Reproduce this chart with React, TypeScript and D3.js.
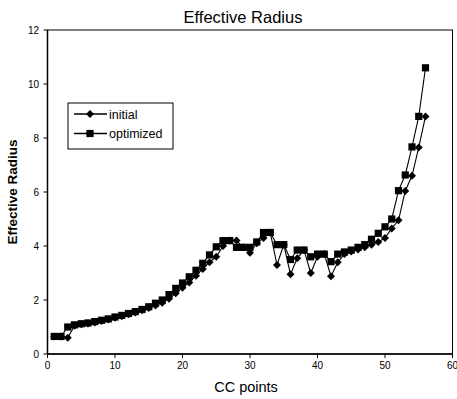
import React from "react";
import * as d3 from "d3";

const ccPoints = d3.range(1, 57);
const initialValues = [
  0.65, 0.65, 0.6, 1.05, 1.1, 1.13, 1.17, 1.22, 1.28, 1.34,
  1.4, 1.47, 1.54, 1.62, 1.7, 1.8, 1.9, 2.05, 2.25, 2.45,
  2.65, 2.9, 3.15, 3.4, 3.6, 4.0, 4.2, 4.2, 3.95, 3.75,
  4.1, 4.3, 4.5, 3.3, 4.05, 2.95, 3.55, 3.85, 3.0, 3.6,
  3.7, 2.88, 3.4, 3.7, 3.8, 3.87, 3.95, 4.05, 4.15, 4.3,
  4.65, 4.95, 6.04, 6.6, 7.65, 8.8,
];
const optimizedValues = [
  0.65, 0.65, 1.0, 1.08, 1.12, 1.15, 1.2, 1.25, 1.3, 1.37,
  1.43, 1.5, 1.57, 1.65, 1.75, 1.88, 2.0, 2.2, 2.43, 2.63,
  2.86, 3.1, 3.36, 3.67, 3.97, 4.2, 4.2, 3.95, 3.95, 3.95,
  4.15, 4.5, 4.5, 4.05, 4.05, 3.5, 3.85, 3.85, 3.6, 3.7,
  3.7, 3.42, 3.7, 3.78, 3.85, 3.95, 4.05, 4.25, 4.47, 4.71,
  5.0, 6.05, 6.63, 7.67, 8.8, 10.6,
];
const xTicks = [0, 10, 20, 30, 40, 50, 60];
const yTicks = [0, 2, 4, 6, 8, 10, 12];
const seriesNames = ["initial", "optimized"];

export default function App() {
  const W = 457, H = 399;
  const left = 47.5, right = 452.5, top = 30, bottom = 354;
  const x = d3.scaleLinear().domain([0, 60]).range([left, right]);
  const y = d3.scaleLinear().domain([0, 12]).range([bottom, top]);
  const line = d3.line<number>().x((_, i) => x(ccPoints[i])).y((d) => y(d));
  const diamond = (cx: number, cy: number, r = 4) =>
    `M${cx},${cy - r}L${cx + r},${cy}L${cx},${cy + r}L${cx - r},${cy}Z`;
  const sq = 7.2;
  const font = "Arial, 'Liberation Sans', sans-serif";

  return (
    <svg width={W} height={H} style={{ position: "absolute", left: 0, top: 0 }} fontFamily={font}>
      <rect x={0} y={0} width={W} height={H} fill="#fff" />
      <text x={243} y={23} textAnchor="middle" fontSize={16.5}>Effective Radius</text>
      <rect x={left} y={top} width={right - left} height={bottom - top} fill="none" stroke="#000" strokeWidth={1} />
      <line x1={left} x2={right} y1={bottom} y2={bottom} stroke="#000" strokeWidth={1.5} />
      <line x1={left} x2={left} y1={top} y2={bottom} stroke="#000" strokeWidth={1.5} />
      {yTicks.map((t) => (
        <g key={"y" + t}>
          <line x1={left - 4} x2={left} y1={y(t)} y2={y(t)} stroke="#000" />
          <text x={39} y={y(t) + 3.5} textAnchor="end" fontSize={10}>{t}</text>
        </g>
      ))}
      {xTicks.map((t) => (
        <g key={"x" + t}>
          <line x1={x(t)} x2={x(t)} y1={bottom} y2={bottom + 4} stroke="#000" />
          <text x={x(t)} y={369} textAnchor="middle" fontSize={10}>{t}</text>
        </g>
      ))}
      <text x={246} y={392} textAnchor="middle" fontSize={14.5}>CC points</text>
      <text transform={`translate(17,192) rotate(-90)`} textAnchor="middle" fontSize={13.5} fontWeight="bold">Effective Radius</text>

      <path d={line(initialValues) || ""} fill="none" stroke="#000" strokeWidth={1.1} />
      <path d={line(optimizedValues) || ""} fill="none" stroke="#000" strokeWidth={1.1} />
      {initialValues.map((v, i) => (
        <path key={"d" + i} d={diamond(x(ccPoints[i]), y(v))} fill="#000" />
      ))}
      {optimizedValues.map((v, i) => (
        <rect key={"s" + i} x={x(ccPoints[i]) - sq / 2} y={y(v) - sq / 2} width={sq} height={sq} fill="#000" />
      ))}

      <rect x={68} y={103} width={105} height={46} fill="#fff" stroke="#000" strokeWidth={1} />
      {seriesNames.map((n, i) => {
        const ly = 114 + i * 19.5;
        return (
          <g key={n}>
            <line x1={74} x2={107} y1={ly} y2={ly} stroke="#000" strokeWidth={1.5} />
            {i === 0 ? (
              <path d={diamond(90, ly, 4)} fill="#000" />
            ) : (
              <rect x={90 - sq / 2} y={ly - sq / 2} width={sq} height={sq} fill="#000" />
            )}
            <text x={109} y={ly + 4.5} fontSize={12.5}>{n}</text>
          </g>
        );
      })}
    </svg>
  );
}
